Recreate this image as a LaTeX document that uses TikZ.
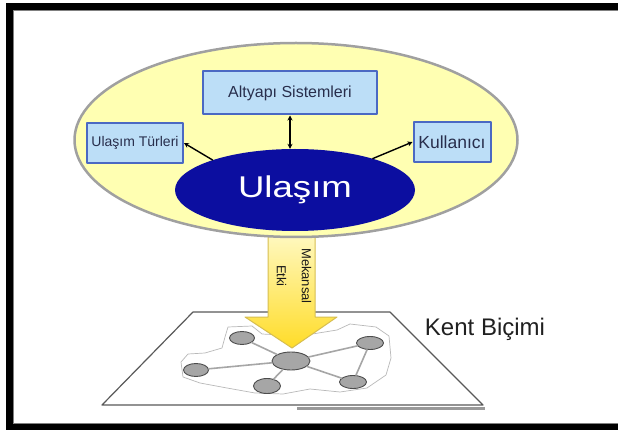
\documentclass[tikz,border=0pt]{standalone}
\usepackage{fontspec}
\usepackage{graphicx}
\setmainfont{Liberation Sans}
\usetikzlibrary{shapes.geometric,arrows.meta}

\definecolor{halo}{RGB}{255,255,178}
\definecolor{rimgray}{RGB}{160,160,160}
\definecolor{navy}{RGB}{12,14,160}
\definecolor{boxfill}{RGB}{188,222,247}
\definecolor{boxline}{RGB}{75,105,195}
\definecolor{boxtext}{RGB}{40,46,76}
\definecolor{arrowtop}{RGB}{255,251,205}
\definecolor{arrowbot}{RGB}{255,220,40}
\definecolor{arrowrim}{RGB}{215,190,80}

\begin{document}
\begin{tikzpicture}[x=1pt,y=-1pt,line cap=round,line join=round,
    box/.style={draw=boxline,fill=boxfill,line width=2pt,inner sep=1pt,text=boxtext,
      font=\fontsize{14}{16}\selectfont},
    link/.style={line width=1.4pt,-{Stealth[length=5pt,width=5pt]}},
    impact/.style={draw=arrowrim,line width=1pt,top color=arrowtop,bottom color=arrowbot},
    town/.style={ellipse,draw=gray!60!black,fill=gray!70,line width=0.9pt,inner sep=0pt,
      minimum width=25pt,minimum height=13pt},
    road/.style={gray!70,line width=1.6pt}]
\useasboundingbox (0,0) rectangle (618,430);

% frame
\draw[line width=7pt,line cap=butt,line join=miter] (618,6.5) -- (9.5,6.5) -- (9.5,427) -- (618,427);
\draw[gray,line width=0.8pt,line cap=butt] (618,10.5) -- (13.5,10.5) -- (13.5,423.5) -- (618,423.5);

% ground plane
\draw[line width=3pt,gray!80,line cap=butt] (297,408.5) -- (485,408.5);
\draw[fill=white,draw=gray!70!black,line width=1.2pt] (193,312) -- (390,312) -- (483,405) -- (102,405) -- cycle;
\draw[gray!55,line width=0.7pt] (228,327) -- (252,326) -- (262,334) -- (300,336) -- (337,330)
  -- (350,324) -- (376,327) -- (389,336) -- (391,358) -- (386,375) -- (367,388) -- (340,392)
  -- (310,389) -- (283,394) -- (255,393) -- (227,388) -- (200,383) -- (183,377) -- (181,362)
  -- (188,354) -- (205,353) -- (222,348) -- (225,337) -- cycle;

% city network
\node[town,minimum width=38pt,minimum height=18pt] (hub) at (291,361) {};
\node[town] (nw) at (242,338) {};
\node[town] (west) at (196,370) {};
\node[town,minimum width=27pt,minimum height=15pt] (south) at (267,386) {};
\node[town,minimum width=27pt] (se) at (353,382) {};
\node[town,minimum width=27pt] (ne) at (370,343) {};
\draw[road] (hub) -- (nw);
\draw[road] (hub) -- (west);
\draw[road] (hub) -- (south);
\draw[road] (hub) -- (se);
\draw[road] (hub) -- (ne);
\draw[road] (ne) -- (se);

\node[font=\fontsize{24}{28}\selectfont,text=gray!25!black,anchor=base] (form) at (485,335) {Kent Biçimi};

% spatial effect arrow
\draw[impact] (268,225) -- (315,225) -- (315,317) -- (337,317) -- (292,348) -- (245,317)
  -- (268,317) -- cycle;
\node[rotate=-90,align=center,text=gray!20!black,font=\fontsize{13}{25}\selectfont] (effect)
  at (294,276) {Mekansal\\Etki};

% transport system
\node[ellipse,draw=rimgray,fill=halo,line width=2.5pt,inner sep=0pt,
  minimum width=443pt,minimum height=194pt] (field) at (296,140) {};
\node[ellipse,fill=navy,inner sep=0pt,minimum width=240pt,minimum height=82pt,text=white,
  font=\fontsize{30}{34}\selectfont] (transport) at (295,190) {\scalebox{1.22}[1]{Ulaşım}};

\node[box,minimum width=174pt,minimum height=43pt,font=\fontsize{16}{18}\selectfont] (infra)
  at (290,93) {Altyapı Sistemleri};
\node[box,minimum width=96pt,minimum height=40pt] (modes) at (135,143) {Ulaşım Türleri};
\node[box,minimum width=77pt,minimum height=40pt,font=\fontsize{17.5}{20}\selectfont] (users)
  at (452,142) {Kullanıcı};

\draw[link,{Stealth[length=5pt,width=5pt]}-{Stealth[length=5pt,width=5pt]}]
  (infra.south) -- (infra.south |- transport.north);
\draw[link] (transport.160) -- (modes.east);
\draw[link] (transport.22) -- (users.west);
\end{tikzpicture}
\end{document}
